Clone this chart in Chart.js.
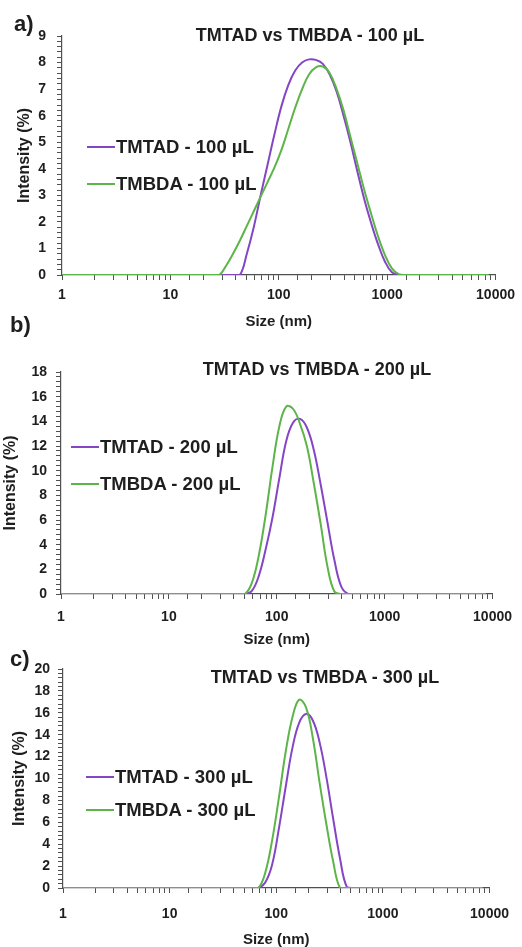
<!DOCTYPE html>
<html>
<head>
<meta charset="utf-8">
<script src="https://cdn.jsdelivr.net/npm/chart.js@4.4.1/dist/chart.umd.min.js"></script>
<style>
  body { margin: 0; background: #fff; width: 522px; height: 947px; overflow: hidden; position: relative;
         font-family: "Liberation Sans", Arial, sans-serif; font-weight: bold; color: #1e1e1e; }
  canvas { position: absolute; left: 0; }
  .title { position: absolute; white-space: nowrap; font-size: 18px; transform: translate(-50%, -50%); }
  .letter { position: absolute; font-size: 22px; transform: translateY(-50%); }
  .leg { position: absolute; display: flex; align-items: center; white-space: nowrap; font-size: 18.5px; transform: translateY(-50%); }
  .leg span.sw { display: inline-block; width: 28px; height: 2px; margin-right: 1px; }
</style>
</head>
<body>
<canvas id="chartA" width="522" height="335" style="top:0px"></canvas>
<canvas id="chartB" width="522" height="325" style="top:330px"></canvas>
<canvas id="chartC" width="522" height="315" style="top:640px"></canvas>

<script>
// DLS size bins (nm)
const sizes = [
  0.9649, 1.117, 1.294, 1.499, 1.736, 2.010, 2.328, 2.696, 3.122, 3.615, 4.187, 4.849, 5.615, 6.503, 7.531, 8.721,
  10.1, 11.7, 13.54, 15.69, 18.17, 21.04, 24.36, 28.21, 32.67, 37.84, 43.82, 50.75, 58.77, 68.06, 78.82, 91.28,
  105.7, 122.4, 141.8, 164.2, 190.1, 220.2, 255.0, 295.3, 342.0, 396.1, 458.7, 531.2, 615.1, 712.4, 825.0, 955.4,
  1106, 1281, 1484, 1718, 1990, 2305, 2669, 3091, 3580, 4145, 4801, 5560, 6439, 7456, 8635
];

// intensity (%) per bin
const tmtad100 = [
  0, 0, 0, 0, 0, 0, 0, 0, 0, 0, 0, 0, 0, 0, 0, 0,
  0, 0, 0, 0, 0, 0, 0, 0, 0, 0, 0, 0.8, 1.8, 3.0, 4.15, 5.3,
  6.35, 7.15, 7.7, 8.0, 8.12, 8.1, 7.95, 7.55, 6.9, 6.0, 5.0, 3.9, 2.85, 1.95, 1.15, 0.5,
  0.1, 0, 0, 0, 0, 0, 0, 0, 0, 0, 0, 0, 0, 0, 0
];
const tmbda100 = [
  0, 0, 0, 0, 0, 0, 0, 0, 0, 0, 0, 0, 0, 0, 0, 0,
  0, 0, 0, 0, 0, 0, 0, 0, 0.35, 0.8, 1.3, 1.85, 2.4, 2.95, 3.5, 4.05,
  4.7, 5.5, 6.3, 7.0, 7.55, 7.82, 7.85, 7.6, 7.0, 6.2, 5.2, 4.2, 3.2, 2.3, 1.45, 0.75,
  0.25, 0.03, 0, 0, 0, 0, 0, 0, 0, 0, 0, 0, 0, 0, 0
];
const tmtad200 = [
  0, 0, 0, 0, 0, 0, 0, 0, 0, 0, 0, 0, 0, 0, 0, 0,
  0, 0, 0, 0, 0, 0, 0, 0, 0, 0, 0, 0, 0.25, 1.45, 3.6, 6.2,
  9.4, 12.4, 13.9, 14.2, 13.5, 11.7, 8.9, 5.8, 2.75, 0.6, 0, 0, 0, 0, 0, 0,
  0, 0, 0, 0, 0, 0, 0, 0, 0, 0, 0, 0, 0, 0, 0
];
const tmbda200 = [
  0, 0, 0, 0, 0, 0, 0, 0, 0, 0, 0, 0, 0, 0, 0, 0,
  0, 0, 0, 0, 0, 0, 0, 0, 0, 0, 0, 0, 0.9, 3.1, 6.4, 10.3,
  13.6, 15.2, 15.0, 13.8, 12.0, 9.0, 5.7, 2.2, 0.2, 0, 0, 0, 0, 0, 0, 0,
  0, 0, 0, 0, 0, 0, 0, 0, 0, 0, 0, 0, 0, 0, 0
];
const tmtad300 = [
  0, 0, 0, 0, 0, 0, 0, 0, 0, 0, 0, 0, 0, 0, 0, 0,
  0, 0, 0, 0, 0, 0, 0, 0, 0, 0, 0, 0, 0, 0, 0.5, 2.1,
  5.4, 9.2, 12.8, 15.1, 15.9, 15.3, 13.3, 10.1, 6.3, 2.7, 0.1, 0, 0, 0, 0, 0,
  0, 0, 0, 0, 0, 0, 0, 0, 0, 0, 0, 0, 0, 0, 0
];
const tmbda300 = [
  0, 0, 0, 0, 0, 0, 0, 0, 0, 0, 0, 0, 0, 0, 0, 0,
  0, 0, 0, 0, 0, 0, 0, 0, 0, 0, 0, 0, 0, 0, 1.4, 4.3,
  8.2, 12.4, 15.6, 17.2, 16.5, 13.7, 9.6, 5.8, 2.4, 0, 0, 0, 0, 0, 0, 0,
  0, 0, 0, 0, 0, 0, 0, 0, 0, 0, 0, 0, 0, 0, 0
];

const xTickLabels = [1, 10, 100, 1000, 10000];
const volumes = ["100 µL", "200 µL", "300 µL"];
const yMaxes = [9, 18, 20];
const yMinorSteps = [0.2, 0.4, 0.4];
const yLabelSteps = [1, 2, 2];

const PURPLE = "#8446c4";
const GREEN = "#5db54a";
const AXIS = "#505050";
const TEXT = "#1e1e1e";
const FONT = '"Liberation Sans", Arial, sans-serif';

// layout of the three panels (pixels on the page)
const panels = [
  { id: "chartA", top: 0,   h: 335, area: [62, 499, 36, 275],  tickPad: 7,  yTickPad: 11, yTitlePad: 15, xTitlePad: 4,
    title: [310, 35], letter: [14, 24, "a)"], legend: [87, 147, 184] },
  { id: "chartB", top: 330, h: 325, area: [61, 497, 372, 594], tickPad: 10, yTickPad: 9,  yTitlePad: 1,  xTitlePad: 6,
    title: [317, 369], letter: [10, 325, "b)"], legend: [71, 447, 484] },
  { id: "chartC", top: 640, h: 315, area: [63, 497, 669, 888], tickPad: 13, yTickPad: 8,  yTitlePad: 10, xTitlePad: 6,
    title: [325, 677], letter: [10, 659, "c)"], legend: [86, 777, 810] }
];

const seriesSets = [[tmtad100, tmbda100], [tmtad200, tmbda200], [tmtad300, tmbda300]];

function toXY(vals) {
  return sizes.map((s, i) => ({ x: s, y: vals[i] }));
}

function addText(cls, x, y, text) {
  const d = document.createElement("div");
  d.className = cls;
  d.style.left = x + "px";
  d.style.top = y + "px";
  d.textContent = text;
  document.body.appendChild(d);
  return d;
}

panels.forEach((p, k) => {
  const [left, right, top, bottom] = p.area;
  const vol = volumes[k];
  const chart = new Chart(document.getElementById(p.id), {
    type: "line",
    data: {
      datasets: [
        { label: "TMTAD - " + vol, data: toXY(seriesSets[k][0]), borderColor: PURPLE, order: 1 },
        { label: "TMBDA - " + vol, data: toXY(seriesSets[k][1]), borderColor: GREEN, order: 0 }
      ]
    },
    options: {
      responsive: false,
      animation: false,
      events: [],
      layout: { padding: { left: 0, right: 522 - right, top: top - p.top, bottom: 0 } },
      elements: {
        point: { radius: 0 },
        line: { borderWidth: 2, tension: 0.4 }
      },
      plugins: { legend: { display: false }, tooltip: { enabled: false } },
      scales: {
        x: {
          type: "logarithmic",
          min: 1, max: 10000,
          afterFit: (s) => { s.height = p.top + p.h - bottom; },
          grid: { drawOnChartArea: false, drawTicks: true, tickLength: 5, color: AXIS },
          border: { display: true, color: AXIS, width: 1.2 },
          ticks: {
            autoSkip: false, maxRotation: 0, padding: p.tickPad, color: TEXT,
            font: { family: FONT, size: 14, weight: "bold" },
            callback: (v) => xTickLabels.includes(v) ? String(v) : ""
          },
          title: { display: true, text: "Size (nm)", color: TEXT, padding: { top: 0, bottom: p.xTitlePad },
                   font: { family: FONT, size: 15, weight: "bold" } }
        },
        y: {
          min: 0, max: yMaxes[k],
          afterFit: (s) => { s.width = left; },
          grid: { drawOnChartArea: false, drawTicks: true, tickLength: 5, color: AXIS },
          border: { display: true, color: AXIS, width: 1.2 },
          ticks: {
            stepSize: yMinorSteps[k], maxTicksLimit: 200, autoSkip: false, padding: p.yTickPad, color: TEXT,
            font: { family: FONT, size: 14, weight: "bold" },
            callback: (v) => {
              const r = Math.round(v);
              return (Math.abs(v - r) < 1e-6 && r % yLabelSteps[k] === 0) ? String(r) : "";
            }
          },
          title: { display: true, text: "Intensity (%)", color: TEXT, padding: { top: p.yTitlePad, bottom: 0 },
                   font: { family: FONT, size: 16, weight: "bold" } }
        }
      }
    }
  });

  addText("title", p.title[0], p.title[1], "TMTAD vs TMBDA - " + vol);
  addText("letter", p.letter[0], p.letter[1], p.letter[2]);

  // legend built from the chart's datasets
  chart.data.datasets.forEach((ds, i) => {
    const row = addText("leg", p.legend[0], p.legend[1 + i], "");
    const sw = document.createElement("span");
    sw.className = "sw";
    sw.style.background = ds.borderColor;
    row.appendChild(sw);
    row.appendChild(document.createTextNode(ds.label));
  });
});
</script>
</body>
</html>
